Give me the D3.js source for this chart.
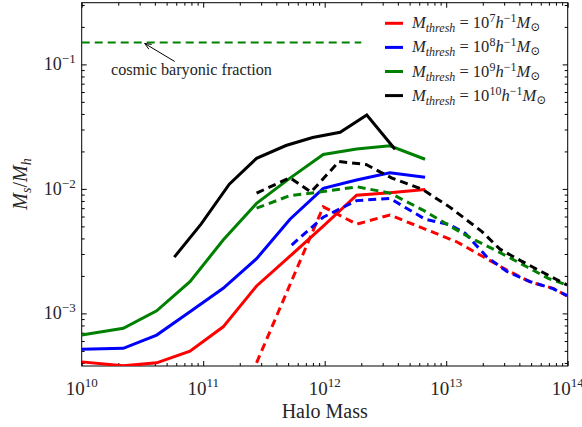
<!DOCTYPE html>
<html>
<head>
<meta charset="utf-8">
<script src="https://cdn.jsdelivr.net/npm/d3@7"></script>
<style>
  body { margin: 0; background: #fff; }
  svg { display: block; }
  text { font-family: "Liberation Serif", "DejaVu Serif", serif; fill: #262626; }
</style>
</head>
<body>
<div id="chart"></div>
<script>
// threshold labels (exponent of M_thresh) and their colours
const thresholds = ['7', '8', '9', '10'];
const colors = ['#ff0000', '#0000ff', '#008000', '#000000'];

// solid lines: halo mass bins shared by the first three thresholds
const solidMass = [1e10, 2.2e10, 4.14e10, 7.78e10, 1.46e11, 2.75e11, 5.18e11, 9.73e11, 1.83e12, 3.44e12, 6.7e12];
const solid7 = [4.08e-4, 3.79e-4, 4.01e-4, 4.98e-4, 7.8e-4, 1.66e-3, 2.88e-3, 5.02e-3, 8.91e-3, 9.3e-3, 9.91e-3];
const solid8 = [5.16e-4, 5.24e-4, 6.7e-4, 1.03e-3, 1.59e-3, 2.75e-3, 5.71e-3, 1.01e-2, 1.18e-2, 1.35e-2, 1.24e-2];
const solid9 = [6.7e-4, 7.59e-4, 1.05e-3, 1.8e-3, 3.88e-3, 7.66e-3, 1.22e-2, 1.89e-2, 2.09e-2, 2.22e-2, 1.73e-2];
const solid10Mass = [5.78e10, 9.6e10, 1.64e11, 2.75e11, 4.8e11, 7.96e11, 1.34e12, 2.22e12, 3.79e12];
const solid10 = [2.83e-3, 5.21e-3, 1.09e-2, 1.76e-2, 2.23e-2, 2.59e-2, 2.85e-2, 3.92e-2, 2.08e-2];

// dashed lines
const dashed7Mass = [2.75e11, 9.73e11, 1.83e12, 3.44e12, 6.47e12, 1.22e13, 2.02e13, 3.16e13, 4.9e13, 7.57e13, 9.9e13];
const dashed7 = [4.01e-4, 7.18e-3, 5.21e-3, 6.17e-3, 4.82e-3, 3.76e-3, 2.85e-3, 2.23e-3, 1.79e-3, 1.59e-3, 1.38e-3];
const dashed8Mass = [5.35e11, 9.73e11, 1.83e12, 3.44e12, 6.7e12, 1.07e13, 1.43e13, 2.17e13, 3.16e13, 4.9e13, 7.57e13, 9.9e13];
const dashed8 = [3.54e-3, 5.93e-3, 8.05e-3, 8.39e-3, 5.71e-3, 5.16e-3, 4.41e-3, 2.83e-3, 2.17e-3, 1.8e-3, 1.58e-3, 1.39e-3];
const dashed9Mass = [2.75e11, 5.18e11, 9.68e11, 1.85e12, 3.44e12, 6.44e12, 1.01e13, 1.57e13, 2.37e13, 3.15e13, 4.6e13, 6.92e13, 9.9e13];
const dashed9 = [7.01e-3, 8.83e-3, 9.51e-3, 1.04e-2, 9.25e-3, 6.76e-3, 5.21e-3, 4.06e-3, 3.33e-3, 2.88e-3, 2.37e-3, 1.91e-3, 1.69e-3];
const dashed10Mass = [2.75e11, 5.18e11, 7.71e11, 1.31e12, 2.19e12, 3.58e12, 6.32e12, 1.07e13, 1.97e13, 2.77e13, 4.13e13, 6.27e13, 9.9e13];
const dashed10 = [9.25e-3, 1.23e-2, 9.42e-3, 1.66e-2, 1.57e-2, 1.22e-2, 9.96e-3, 7.14e-3, 4.54e-3, 3.28e-3, 2.64e-3, 2.13e-3, 1.69e-3];

// cosmic baryonic fraction reference line + annotation
const baryonFraction = 0.15;
const baryonMassRange = [1e10, 2e12];
const arrowTarget = [3.3e10, 0.15];

// axis ticks
const xMajor = [1e10, 1e11, 1e12, 1e13, 1e14];
const xExp = ['10', '11', '12', '13', '14'];
const yMajor = [1e-3, 1e-2, 1e-1];
const yExp = ['\u22123', '\u22122', '\u22121'];

const width = 582, height = 427;
const margin = { left: 81.7, top: 2.7, right: 582 - 567.7, bottom: 427 - 366 };
const iw = width - margin.left - margin.right;
const ih = height - margin.top - margin.bottom;

const svg = d3.select('#chart').append('svg')
  .attr('width', width).attr('height', height);

const x = d3.scaleLog().domain([1e10, 1e14]).range([0, iw]);
const y = d3.scaleLog().domain([3.78e-4, 0.313]).range([ih, 0]);

const g = svg.append('g').attr('transform', `translate(${margin.left},${margin.top})`);

g.append('clipPath').attr('id', 'clip')
  .append('rect').attr('width', iw).attr('height', ih);

// minor ticks
const minorOf = (lo, hi) => {
  const out = [];
  for (let e = Math.floor(Math.log10(lo)); e <= Math.ceil(Math.log10(hi)); e++) {
    for (let m = 2; m <= 9; m++) {
      const v = m * Math.pow(10, e);
      if (v >= lo && v <= hi) out.push(v);
    }
  }
  return out;
};
const xMinor = minorOf(1e10, 1e14);
const yMinor = minorOf(3.78e-4, 0.313);

function tickAxis(axisFn, scale, values, size, transform) {
  const a = g.append('g').attr('transform', transform)
    .call(axisFn(scale).tickValues(values).tickSize(size).tickFormat(''));
  a.select('.domain').remove();
  a.selectAll('line').attr('stroke', '#000').attr('stroke-width', 1);
}
// ticks point inwards on all four sides
tickAxis(d3.axisBottom, x, xMajor, -5, `translate(0,${ih})`);
tickAxis(d3.axisBottom, x, xMinor, -3, `translate(0,${ih})`);
tickAxis(d3.axisTop, x, xMajor, -5, 'translate(0,0)');
tickAxis(d3.axisTop, x, xMinor, -3, 'translate(0,0)');
tickAxis(d3.axisLeft, y, yMajor, -5, 'translate(0,0)');
tickAxis(d3.axisLeft, y, yMinor, -3, 'translate(0,0)');
tickAxis(d3.axisRight, y, yMajor, -5, `translate(${iw},0)`);
tickAxis(d3.axisRight, y, yMinor, -3, `translate(${iw},0)`);

// frame
g.append('rect').attr('width', iw).attr('height', ih)
  .attr('fill', 'none').attr('stroke', '#000').attr('stroke-width', 1);

// tick labels
xMajor.forEach((v, i) => {
  const t = g.append('text')
    .attr('x', x(v)).attr('y', ih + 29)
    .attr('text-anchor', 'middle')
    .style('font-size', '19px');
  t.append('tspan').text('10');
  t.append('tspan').attr('dy', -8).style('font-size', '13px').text(xExp[i]);
});
yMajor.forEach((v, i) => {
  const t = g.append('text')
    .attr('x', -6).attr('y', y(v) + 6)
    .attr('text-anchor', 'end')
    .style('font-size', '18px');
  t.append('tspan').text('10');
  t.append('tspan').attr('dy', -7).style('font-size', '13px').text(yExp[i]);
});

// axis labels
svg.append('text')
  .attr('x', margin.left + iw / 2).attr('y', 418)
  .attr('text-anchor', 'middle')
  .style('font-size', '20px')
  .text('Halo Mass');

const yl = svg.append('text')
  .attr('transform', 'translate(27,184) rotate(-90)')
  .attr('text-anchor', 'middle')
  .style('font-size', '20px');
yl.append('tspan').style('font-style', 'italic').text('M');
yl.append('tspan').attr('dy', 4).style('font-size', '14px').style('font-style', 'italic').text('s');
yl.append('tspan').attr('dy', -4).text('/');
yl.append('tspan').style('font-style', 'italic').text('M');
yl.append('tspan').attr('dy', 4).style('font-size', '14px').style('font-style', 'italic').text('h');

// data lines
const line = d3.line().x(d => x(d[0])).y(d => y(d[1]));
const zip = (ms, vs) => ms.map((m, i) => [m, vs[i]]);

const plot = g.append('g').attr('clip-path', 'url(#clip)');

const series = [
  { pts: zip(solidMass, solid7), c: 0, dash: null },
  { pts: zip(dashed7Mass, dashed7), c: 0, dash: '8,5' },
  { pts: zip(solidMass, solid8), c: 1, dash: null },
  { pts: zip(dashed8Mass, dashed8), c: 1, dash: '8,5' },
  { pts: zip(solidMass, solid9), c: 2, dash: null },
  { pts: zip(dashed9Mass, dashed9), c: 2, dash: '8,5' },
  { pts: zip(solid10Mass, solid10), c: 3, dash: null },
  { pts: zip(dashed10Mass, dashed10), c: 3, dash: '8,5' },
];
series.forEach(s => {
  plot.append('path')
    .attr('d', line(s.pts))
    .attr('fill', 'none')
    .attr('stroke', colors[s.c])
    .attr('stroke-width', 3)
    .attr('stroke-dasharray', s.dash);
});

// cosmic baryonic fraction
plot.append('path')
  .attr('d', line(baryonMassRange.map(m => [m, baryonFraction])))
  .attr('fill', 'none')
  .attr('stroke', '#008000')
  .attr('stroke-width', 2)
  .attr('stroke-dasharray', '8,5');

// annotation arrow
const tip = [x(arrowTarget[0]), y(arrowTarget[1]) + 1];
const tail = [tip[0] + 30, tip[1] + 18];
const ang = Math.atan2(tail[1] - tip[1], tail[0] - tip[0]);
const head = 7;
g.append('path')
  .attr('d', `M${tail[0]},${tail[1]}L${tip[0]},${tip[1]}` +
    `M${tip[0] + head * Math.cos(ang + 0.4)},${tip[1] + head * Math.sin(ang + 0.4)}L${tip[0]},${tip[1]}` +
    `L${tip[0] + head * Math.cos(ang - 0.4)},${tip[1] + head * Math.sin(ang - 0.4)}`)
  .attr('fill', 'none').attr('stroke', '#000').attr('stroke-width', 1);
g.append('text')
  .attr('x', 111 - margin.left).attr('y', 75 - margin.top)
  .style('font-size', '16.2px')
  .text('cosmic baryonic fraction');

// legend
const legend = svg.append('g').attr('transform', 'translate(385,23.3)');
thresholds.forEach((e, i) => {
  const row = legend.append('g').attr('transform', `translate(0,${i * 24.1})`);
  row.append('line').attr('x1', 0).attr('x2', 18)
    .attr('stroke', colors[i]).attr('stroke-width', 3);
  const t = row.append('text').attr('x', 27).attr('y', 5).style('font-size', '16.5px');
  t.append('tspan').style('font-style', 'italic').text('M');
  t.append('tspan').attr('dy', 4).style('font-size', '12px').style('font-style', 'italic').text('thresh');
  t.append('tspan').attr('dy', -4).text(' = 10');
  t.append('tspan').attr('dy', -6).style('font-size', '12px').text(e);
  t.append('tspan').attr('dy', 6).style('font-style', 'italic').text('h');
  t.append('tspan').attr('dy', -6).style('font-size', '12px').text('\u22121');
  t.append('tspan').attr('dy', 6).style('font-style', 'italic').text('M');
  t.append('tspan').attr('dy', 3).style('font-size', '12px').text('\u2299');
});
</script>
</body>
</html>
